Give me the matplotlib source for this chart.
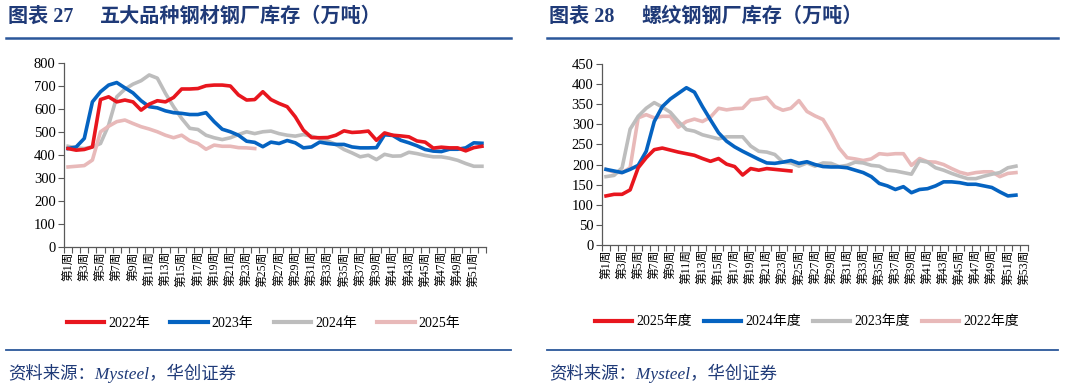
import matplotlib
matplotlib.use("Agg")
import matplotlib.pyplot as plt
from matplotlib.lines import Line2D

plt.rcParams['font.family'] = ['Liberation Serif', 'Noto Sans CJK SC', 'DejaVu Sans']

# 五大品种钢材钢厂库存（万吨）
weeks_l = ['第%d周' % i for i in range(1, 53)]
s2022 = [428, 421, 424, 435, 641, 653, 631, 639, 631, 595, 621, 636, 631, 650, 687, 687, 689, 701, 704, 704,
         700, 661, 639, 641, 675, 641, 624, 610, 566, 508, 476, 475, 476, 486, 505, 498, 500, 504, 464, 496,
         486, 483, 479, 461, 456, 430, 434, 431, 431, 418, 432, 438]
s2023 = [428, 435, 472, 631, 675, 704, 715, 692, 670, 636, 610, 605, 592, 584, 581, 576, 576, 584, 545, 512,
         501, 486, 460, 455, 436, 456, 450, 463, 453, 431, 435, 456, 450, 446, 446, 435, 431, 431, 432, 488,
         485, 464, 453, 440, 424, 417, 415, 425, 425, 431, 453, 451]
s2024 = [438, 431, 428, 435, 450, 530, 653, 686, 708, 723, 748, 734, 668, 610, 559, 516, 511, 486, 475, 467,
         475, 489, 501, 493, 501, 504, 493, 486, 482, 489, 482, 472, 461, 446, 424, 409, 392, 399, 380, 403,
         395, 396, 412, 406, 398, 392, 392, 386, 377, 363, 351, 351]
s2025 = [348, 351, 354, 378, 501, 525, 545, 552, 537, 523, 513, 501, 486, 475, 486, 462, 450, 425, 443, 438,
         438, 432, 431, 428]

# 螺纹钢钢厂库存（万吨）
weeks_r = ['第%d周' % i for i in range(1, 54)]
r2025 = [122, 126, 126, 137, 192, 217, 237, 241, 236, 231, 227, 223, 215, 208, 215, 201, 195, 174, 190, 186,
         190, 188, 186, 184]
r2024 = [188, 184, 180, 188, 198, 233, 307, 344, 363, 377, 391, 380, 344, 311, 279, 258, 244, 233, 223, 213,
         204, 203, 206, 210, 203, 207, 200, 195, 194, 194, 192, 186, 180, 170, 153, 147, 138, 145, 130, 138,
         140, 147, 157, 157, 155, 151, 151, 147, 143, 132, 122, 124]
r2023 = [170, 173, 192, 288, 320, 340, 354, 343, 330, 307, 287, 283, 274, 269, 264, 269, 269, 269, 246, 233,
         231, 225, 206, 204, 196, 204, 196, 204, 203, 195, 198, 206, 204, 198, 196, 186, 184, 180, 176, 210,
         206, 192, 186, 178, 171, 165, 165, 171, 176, 180, 192, 196]
r2022 = [188, 181, 180, 192, 316, 324, 316, 320, 320, 293, 307, 313, 307, 318, 340, 336, 339, 340, 361, 363,
         367, 344, 335, 340, 359, 332, 321, 312, 279, 241, 217, 214, 210, 214, 227, 225, 227, 227, 198, 215,
         207, 206, 200, 190, 181, 176, 180, 182, 182, 170, 178, 180]

RED = '#E8161E'
BLUE = '#0563C1'
GRAY = '#BDBDBD'
PINK = '#E8B9B9'
NAVY = '#1F3A78'
RULE = '#2B579A'
AXC = '#595959'

W, H = 1066, 389
fig = plt.figure(figsize=(W / 100, H / 100), dpi=100)


def px(x, y):
    return x / W, 1 - y / H


def setup(ax, labels, ymax, ystep):
    n = len(labels)
    ax.set_xlim(-0.5, n - 0.5)
    ax.set_ylim(0, ymax)
    ax.set_yticks(range(0, ymax + 1, ystep))
    ax.set_xticks(range(0, n, 2))
    ax.set_xticklabels(labels[::2], rotation=90, fontsize=8.5, va='top', ha='center')
    ax.set_xticks([i - 0.5 for i in range(n + 1)], minor=True)
    ax.tick_params(axis='x', which='major', length=0, pad=3)
    ax.tick_params(axis='x', which='minor', length=4, width=0.8, direction='out', color=AXC)
    ax.tick_params(axis='y', length=4, width=0.8, direction='out', color=AXC, labelsize=10.5, pad=2)
    for s in ['top', 'right']:
        ax.spines[s].set_visible(False)
    for s in ['left', 'bottom']:
        ax.spines[s].set_color(AXC)
        ax.spines[s].set_linewidth(0.9)


lw = 2.6

# left chart
axl = fig.add_axes([64 / W, 1 - 247 / H, (486 - 64) / W, (247 - 63) / H])
axl.plot(range(len(s2024)), s2024, color=GRAY, lw=lw, solid_joinstyle='round')
axl.plot(range(len(s2025)), s2025, color=PINK, lw=lw, solid_joinstyle='round')
axl.plot(range(len(s2023)), s2023, color=BLUE, lw=lw, solid_joinstyle='round')
axl.plot(range(len(s2022)), s2022, color=RED, lw=lw, solid_joinstyle='round')
setup(axl, weeks_l, 800, 100)

# right chart
axr = fig.add_axes([602 / W, 1 - 245 / H, (1028 - 602) / W, (245 - 64) / H])
axr.plot(range(len(r2022)), r2022, color=PINK, lw=lw, solid_joinstyle='round')
axr.plot(range(len(r2023)), r2023, color=GRAY, lw=lw, solid_joinstyle='round')
axr.plot(range(len(r2024)), r2024, color=BLUE, lw=lw, solid_joinstyle='round')
axr.plot(range(len(r2025)), r2025, color=RED, lw=lw, solid_joinstyle='round')
setup(axr, weeks_r, 450, 50)

# legends
hl = [Line2D([], [], color=c, lw=3) for c in [RED, BLUE, GRAY, PINK]]
fig.legend(hl, ['2022年', '2023年', '2024年', '2025年'], loc='center left',
           bbox_to_anchor=px(61, 323), ncol=4, frameon=False, fontsize=10,
           handlelength=2.7, handletextpad=0.3, columnspacing=1.45, borderaxespad=0)
fig.legend(hl, ['2025年度', '2024年度', '2023年度', '2022年度'], loc='center left',
           bbox_to_anchor=px(589, 322), ncol=4, frameon=False, fontsize=10,
           handlelength=2.7, handletextpad=0.3, columnspacing=0.85, borderaxespad=0)

# titles, rules, source
tkw = dict(fontsize=14.5, fontweight='bold', color=NAVY, va='center')
fig.text(*px(8, 17), '图表 27', **tkw)
fig.text(*px(100, 17), '五大品种钢材钢厂库存（万吨）', **tkw)
fig.text(*px(549, 17), '图表 28', **tkw)
fig.text(*px(641, 17), '螺纹钢钢厂库存（万吨）', **tkw)

for x0, x1 in [(6, 511), (547, 1058)]:
    fig.add_artist(Line2D([x0 / W, x1 / W], [1 - 38 / H] * 2, color=RULE, lw=1.8))
    fig.add_artist(Line2D([x0 / W, x1 / W], [1 - 350 / H] * 2, color=RULE, lw=1.3))

fig.text(*px(8, 373), '资料来源：Mysteel，华创证券', fontsize=12.5, style='italic', color=NAVY, va='center')
fig.text(*px(549, 373), '资料来源：Mysteel，华创证券', fontsize=12.5, style='italic', color=NAVY, va='center')

fig.savefig('out.png', dpi=100)
